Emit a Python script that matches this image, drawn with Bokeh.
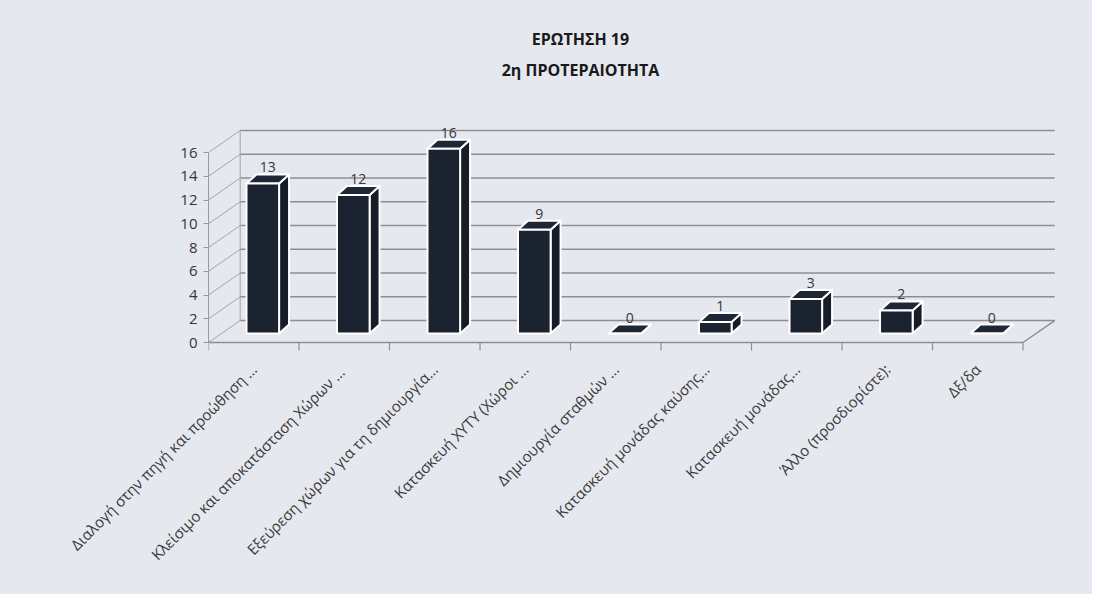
import math
from bokeh.plotting import figure
from bokeh.models import Range1d, FixedTicker, Label, ColumnDataSource
from bokeh.core.properties import value
from bokeh.embed import file_html
from bokeh.resources import INLINE

# ---- data ----
categories = [
    "Διαλογή στην πηγή και προώθηση ...",
    "Κλείσιμο και αποκατάσταση  Χώρων ...",
    "Εξεύρεση χώρων για τη δημιουργία...",
    "Κατασκευή ΧΥΤΥ (Χώροι ...",
    "Δημιουργία σταθμών ...",
    "Κατασκευή μονάδας καύσης...",
    "Κατασκευή μονάδας...",
    "Άλλο (προσδιορίστε):",
    "Δξ/δα",
]
counts = [13, 12, 16, 9, 0, 1, 3, 2, 0]
y_ticks = [0, 2, 4, 6, 8, 10, 12, 14, 16]
title_lines = ["ΕΡΩΤΗΣΗ 19", "2η ΠΡΟΤΕΡΑΙΟΤΗΤΑ"]

BG = "#e6e8ef"
BAR = "#1b2230"
GRID = "#8e8e92"
FONT = "Open Sans"

n = len(categories)
TOP = 10
FRAME_H = 352 - TOP
p = figure(
    frame_width=852, frame_height=FRAME_H,
    min_border_left=208, min_border_right=32,
    min_border_top=TOP, min_border_bottom=242,
    x_range=Range1d(0, 9.414), y_range=Range1d(-0.842, 27.96),
    output_backend="svg", toolbar_location=None, title=None,
    styles={"background-color": BG},
)
p.extra_y_ranges = {"bars": Range1d(-1.646, 27.99)}
p.background_fill_color = BG
p.border_fill_color = BG
p.outline_line_color = None
p.xgrid.visible = False
p.ygrid.visible = False

# titles (screen units relative to the frame)
for txt, ypix in zip(title_lines, [38, 69]):
    p.add_layout(Label(x=372, y=TOP + FRAME_H - ypix, x_units="screen", y_units="screen",
                       text=txt, text_align="center", text_baseline="middle",
                       text_font=FONT, text_font_size="16px", text_font_style="bold",
                       text_color="#1a1a1a"))

# 3D wall geometry (offsets in data units)
wall_dx, wall_dy = 0.35, 1.85
back_right = n + wall_dx

# back wall gridlines and left wall diagonals
p.segment(x0=[wall_dx] * len(y_ticks), y0=[t + wall_dy for t in y_ticks],
          x1=[back_right] * len(y_ticks), y1=[t + wall_dy for t in y_ticks],
          line_color=GRID, line_width=1.5)
p.segment(x0=[0] * len(y_ticks), y0=y_ticks,
          x1=[wall_dx] * len(y_ticks), y1=[t + wall_dy for t in y_ticks],
          line_color="#a4a4a8", line_width=1)
p.segment(x0=[wall_dx], y0=[wall_dy], x1=[wall_dx], y1=[y_ticks[-1] + wall_dy],
          line_color="#a4a4a8", line_width=1)
# floor front edge, right edge, category boundary ticks
p.segment(x0=[0], y0=[0], x1=[n], y1=[0], line_color=GRID, line_width=1.5)
p.segment(x0=[n], y0=[0], x1=[back_right], y1=[wall_dy], line_color=GRID, line_width=1.5)
p.segment(x0=list(range(n + 1)), y0=[0] * (n + 1), x1=list(range(n + 1)),
          y1=[-0.67] * (n + 1), line_color=GRID, line_width=1.2)

# 3D bars
half, shift = 0.18, 0.1
bdx, bdy = 0.11, 0.78
lefts = [i + 0.5 + shift - half for i in range(n)]
rights = [i + 0.5 + shift + half for i in range(n)]
side_xs = [[r, r + bdx, r + bdx, r] for r in rights]
side_ys = [[0, bdy, v + bdy, v] for v in counts]
top_xs = [[l, r, r + bdx, l + bdx] for l, r in zip(lefts, rights)]
top_ys = [[v, v, v + bdy, v + bdy] for v in counts]

p.patches(xs=side_xs, ys=side_ys, y_range_name="bars", fill_color="#161c28",
          line_color="white", line_width=2, line_join="round")
p.patches(xs=top_xs, ys=top_ys, y_range_name="bars", fill_color="#1f2736",
          line_color="white", line_width=2, line_join="round")
src = ColumnDataSource(dict(left=lefts, right=rights, top=counts, bottom=[0] * n,
                            xc=[(l + r) / 2 + bdx / 2 for l, r in zip(lefts, rights)],
                            ylab=[v + bdy for v in counts],
                            lab=[str(v) for v in counts]))
p.quad(left="left", right="right", top="top", bottom="bottom", source=src,
       y_range_name="bars", fill_color=BAR, line_color="white", line_width=2)
p.text(x="xc", y="ylab", text="lab", source=src, y_range_name="bars",
       text_align="center", text_baseline="bottom", y_offset=-2,
       text_font=value(FONT), text_font_size="14px", text_color="#3a3340")

# axes
p.yaxis.ticker = FixedTicker(ticks=y_ticks)
p.yaxis.bounds = (0, 16)
p.yaxis.axis_line_color = "#9a9a9e"
p.yaxis.major_tick_line_color = "#9a9a9e"
p.yaxis.major_tick_out = 5
p.yaxis.major_tick_in = 0
p.yaxis.minor_tick_line_color = None
p.yaxis.major_label_standoff = 6
p.yaxis.major_label_text_font = FONT
p.yaxis.major_label_text_font_size = "15px"
p.yaxis.major_label_text_color = "#3a3340"

centers = [i + 0.5 for i in range(n)]
p.xaxis.ticker = FixedTicker(ticks=centers)
p.xaxis.major_label_overrides = {c: lab for c, lab in zip(centers, categories)}
p.xaxis.major_label_orientation = math.pi / 4
p.xaxis.axis_line_color = None
p.xaxis.major_tick_line_color = None
p.xaxis.minor_tick_line_color = None
p.xaxis.major_label_standoff = 8
p.xaxis.major_label_text_font = FONT
p.xaxis.major_label_text_font_size = "15px"
p.xaxis.major_label_text_color = "#3a3a3a"

open("out.html", "w").write(file_html(p, INLINE))
